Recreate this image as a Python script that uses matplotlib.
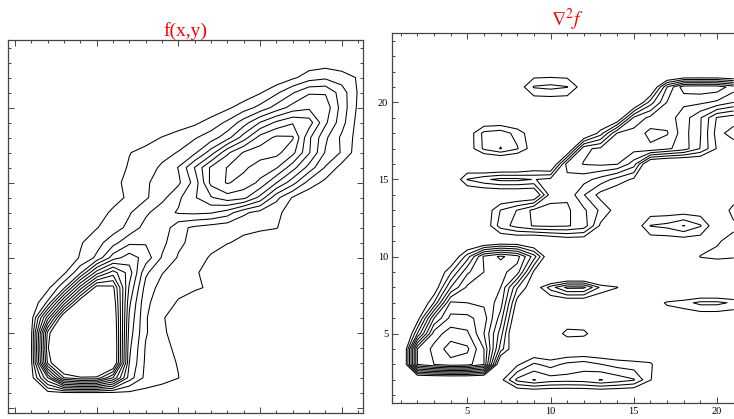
import numpy as np
import matplotlib
matplotlib.use("Agg")
import matplotlib.pyplot as plt
from matplotlib.ticker import MultipleLocator, NullFormatter

plt.rcParams["mathtext.fontset"] = "stix"
SERIF = "Liberation Serif"

# f(x, y) on the integer grid: rows are y = 0..24, columns x = 0..21
f_xs = np.arange(0, 22)
f_ys = np.arange(0, 25)
f_rows = [
    [0, 0, 0.2, 0.4, 0.5, 0.5, 0.4, 0.3, 0.2, 0.1] + [0] * 12,
    [0, 0.1, 0.6, 0.85, 0.9, 0.9, 0.85, 0.8, 0.7, 0.6, 0.4, 0.1] + [0] * 10,
    [0, 0.5, 5, 10, 10.8, 10.7, 8, 3.5, 1.7, 1.3, 1.02, 0.3] + [0] * 10,
    [0, 0.8, 10.2, 14, 16, 16, 13, 4, 1.8, 1.3, 0.95, 0.3] + [0] * 10,
    [0, 0.9, 10.8, 16, 17, 16.5, 13, 4.2, 1.9, 1.4, 0.7, 0.2] + [0] * 10,
    [0, 0.8, 10.3, 15, 16.5, 16, 12.8, 4.5, 2.1, 1.2, 0.5, 0.1] + [0] * 10,
    [0, 0.5, 6.5, 12.5, 15, 15, 12.5, 4.8, 2.1, 1.1, 0.5, 0.1] + [0] * 10,
    [0, 0.1, 2.2, 7.5, 12.2, 13.5, 12, 5.2, 2.2, 1.5, 0.9, 0.6, 0.2] + [0] * 9,
    [0, 0, 0.7, 2.8, 7.5, 11.6, 11.3, 5.8, 2.6, 1.6, 1.3, 1.1, 0.9, 0.3] + [0] * 8,
    [0, 0, 0, 0.8, 2.8, 6.5, 8.5, 6.5, 3.2, 2.05, 1.5, 1.1, 0.7, 0.2] + [0] * 8,
    [0, 0, 0, 0.2, 1.1, 2.2, 4.5, 5.5, 4.6, 2.9, 1.9, 1.4, 0.9, 0.4] + [0] * 8,
    [0, 0, 0, 0, 0.9, 1.6, 2.6, 3.8, 3.9, 3.3, 2.2, 1.7, 1.3, 1.05, 0.8, 0.5, 0.2] + [0] * 5,
    [0, 0, 0, 0, 0.2, 0.95, 1.5, 2.3, 3.4, 3.7, 2.3, 1.8, 1.5, 1.3, 1.2, 1.15, 1.05, 0.4] + [0] * 4,
    [0, 0, 0, 0, 0, 0.5, 1.2, 1.9, 2.8, 3.6, 4.1, 4.2, 4.1, 3.5, 2.2, 1.6, 1.2, 0.6, 0.1] + [0] * 3,
    [0, 0, 0, 0, 0, 0.1, 0.6, 1.2, 1.85, 2.7, 3.8, 4.9, 5.9, 6.6, 6.3, 4.7, 2.3, 0.9, 0.2] + [0] * 3,
    [0, 0, 0, 0, 0, 0, 0.7, 1.3, 1.9, 2.3, 2.8, 4.4, 7.3, 8.1, 7.6, 6.8, 5.05, 3.4, 1.6, 0.7, 0.2, 0],
    [0, 0, 0, 0, 0, 0, 0.3, 1.15, 1.6, 2.15, 3.05, 5.05, 7.2, 8.05, 8.2, 7.5, 7.1, 5.4, 3.6, 1.9, 0.6, 0.1],
    [0, 0, 0, 0, 0, 0, 0, 0.95, 1.4, 1.7, 2.05, 2.8, 4.5, 6.8, 8.1, 8.5, 8.3, 7.3, 5.1, 2.9, 1.9, 0.4],
    [0, 0, 0, 0, 0, 0, 0, 0, 0.5, 1.05, 1.5, 1.9, 2.5, 3.6, 5.5, 7.4, 8.2, 8.1, 5.2, 3.2, 1.8, 0.6],
    [0] * 10 + [0.4, 0.8, 1.4, 2.2, 3.5, 5.05, 6.2, 6.9, 6.5, 4.2, 2.4, 0.6],
    [0] * 12 + [0.3, 0.8, 1.5, 2.3, 3.4, 4.4, 4.8, 4.6, 2.6, 0.8],
    [0] * 14 + [0.3, 0.9, 1.8, 2.9, 3.9, 3.9, 2.5, 0.9],
    [0] * 16 + [0.2, 0.8, 1.5, 1.8, 1.5, 0.9],
    [0] * 18 + [0.4, 0.5, 0.3, 0.2],
    [0] * 22,
]
f_levels = np.arange(1, 12)

# laplacian of f: rows are y = 1..24, columns x = 1..21
lap_xs = np.arange(1, 22)
lap_ys = np.arange(1, 25)
lap_rows = [
    [0] * 6 + [-1] * 10 + [0] * 5,
    [-2] * 6 + [0.6, 3.3, 4.05, 3.5, 3.4, 3.5, 4.05, 3.6, 3.1, 1.05] + [0] * 5,
    [-2.5, 8, 9, 9.6, 9.4, 8, -1, 0.8, 2.2, 1.6, 2.3, 2.6, 2.05, 1.6, 1.4, 1.2, -0.5, 0, 0, 0, 0],
    [-2.6, 8, 9.3, 10.5, 10.2, 8, 2.5] + [-0.5] * 9 + [0] * 5,
    [-3, 3, 8.5, 9.5, 9.2, 7, 3.5, -1.5, 0, 0, 1.4, 1.3] + [0] * 9,
    [-3, 0.3, 6, 8.3, 8.3, 7.5, 4.5, -0.5] + [0] * 13,
    [-2, -1, 2.05, 7.2, 7.0, 6.8, 5.5, 0.5, 0] + [-0.37] * 5 + [0, 0, 1.2, 1.6, 2.3, 2.3, 1.8],
    [0, -1, 0, 4, 6.2, 6.5, 6.0, 2.1, 0, 2.5, 4.3, 4.25, 1.8, 1.05, -0.3, 0] + [-2] * 5,
    [0, -1, -0.5, 1.8, 4.8, 6.0, 6.3, 5.5, 0.8, -3.8, -3.8, -3.8, -3.8, -1] + [0] * 7,
    [0, 0, 0, -0.5, 2.5, 6.2, 7.2, 6.4, 3.5, -0.5] + [0] * 8 + [1.05, 1.2, 1.1],
    [0, 0, 0, 0, -1, -1, -0.5, -0.5, -1, -0.5, 0, 0, 0, 0, 0, 0.3, 0.3, 0.3, 0.3, 0.9, 1.3],
    [0, 0, 0, 0, 0, 0, 2.5, 3.4, 4.1, 4.2, 4.1, 3.6, 0.8, 0, 0, 2.05, 2.3, 3.05, 2.1, 0, 0.8],
    [0, 0, 0, 0, 0, 0, 2.05, 3.05, 4.3, 4.4, 4.2, 3.2, 1.8, 0.5, 0, 0.3, 0.3, 0.3, 0.3, 0, 1.4],
    [0, 0, 0] + [-0.5] * 6 + [3.5, 3.8, 2.05, 0.6] + [0] * 7 + [0.3],
    [0, 0, 0, -0.5, 2.05, 2.8, 3.3, 3.3, 2.95, 3.3, 3.6, 3.4, 2.6, 1.6, 0.8, 0.2, 0, 0, 0, 0, 0],
    [0, 0, 0, -0.5, -0.5, -1.5, -1.5, -1.5, -0.5, -1, 4.5, 5.05, 5.2, 5.05, 3.5, -1, -1.5, -1.5, -1, 0, 0],
    [0, 0, 0, 0, 0.2, 2.2, 3.05, 2.1, 0.27, 0, -1, 4.8, 5.2, 5.3, 5.4, 5.8, 5.2, 4.5, 2.95, 0.9, 0.3],
    [0, 0, 0, 0, 0.2, 2.3, 2.6, 1.6, 0.2, 0, -0.5, -1, 1.5, 5.05, 5.4, 6.3, 6.1, 4.4, 3.05, 0.6, 1.5],
    [0, 0, 0, 0, 0, -0.6, -0.6, -0.6, 0, 0, 0, 0, -1, -0.5, 4.2, 5.3, 5.5, 4.5, 3.1, 0.9, 0.4],
    [0] * 7 + [0.2] * 5 + [0, 0, -1, 2.5, 5.05, 5.2, 5.2, 4.8, 4.0],
    [0] * 7 + [0.2, 2.1, 2.3, 2.05, 0.3, 0, 0, 0, -1, 4.0, 6.6, 6.7, 6.6, 5.5],
    [0] * 7 + [0.2] * 5 + [0, 0] + [-3] * 7,
    [0] * 21,
    [0] * 21,
]
lap_levels = np.arange(1, 11)

F = np.array(f_rows, dtype=float)
L = np.array(lap_rows, dtype=float)
assert F.shape == (len(f_ys), len(f_xs))
assert L.shape == (len(lap_ys), len(lap_xs))

FRAME = "#444444"


def frame_ticks(ax, show_labels):
    for axis in (ax.xaxis, ax.yaxis):
        axis.set_major_locator(MultipleLocator(5))
        axis.set_minor_locator(MultipleLocator(1))
    ax.tick_params(which="both", direction="in", top=True, right=True,
                   color=FRAME, width=0.7, labelsize=7.5, pad=3)
    ax.tick_params(which="major", length=4)
    ax.tick_params(which="minor", length=2)
    if not show_labels:
        ax.xaxis.set_major_formatter(NullFormatter())
        ax.yaxis.set_major_formatter(NullFormatter())
    for lbl in ax.get_xticklabels() + ax.get_yticklabels():
        lbl.set_family(SERIF)
    for sp in ax.spines.values():
        sp.set_color(FRAME)
        sp.set_linewidth(0.9)


fig = plt.figure(figsize=(7.34, 4.19), dpi=100)

ax1 = fig.add_axes([8 / 734, 6 / 419, 355 / 734, 373 / 419])
ax1.contour(f_xs, f_ys, F, levels=f_levels, colors="black", linewidths=0.75)
ax1.set_xlim(-0.43, 21.3)
ax1.set_ylim(-0.35, 24.5)
frame_ticks(ax1, show_labels=False)
ax1.set_title("f(x,y)", color="red", fontsize=14, family=SERIF, pad=1)

ax2 = fig.add_axes([392.4 / 734, 16 / 419, 349.6 / 734, 370 / 419])
ax2.contour(lap_xs, lap_ys, L, levels=lap_levels, colors="black", linewidths=0.75)
ax2.set_xlim(0.5, 21.5)
ax2.set_ylim(0.5, 24.5)
frame_ticks(ax2, show_labels=True)
ax2.set_title(r"$\nabla^2 f$", color="red", fontsize=14, pad=3)

fig.savefig("out.png", dpi=100)
